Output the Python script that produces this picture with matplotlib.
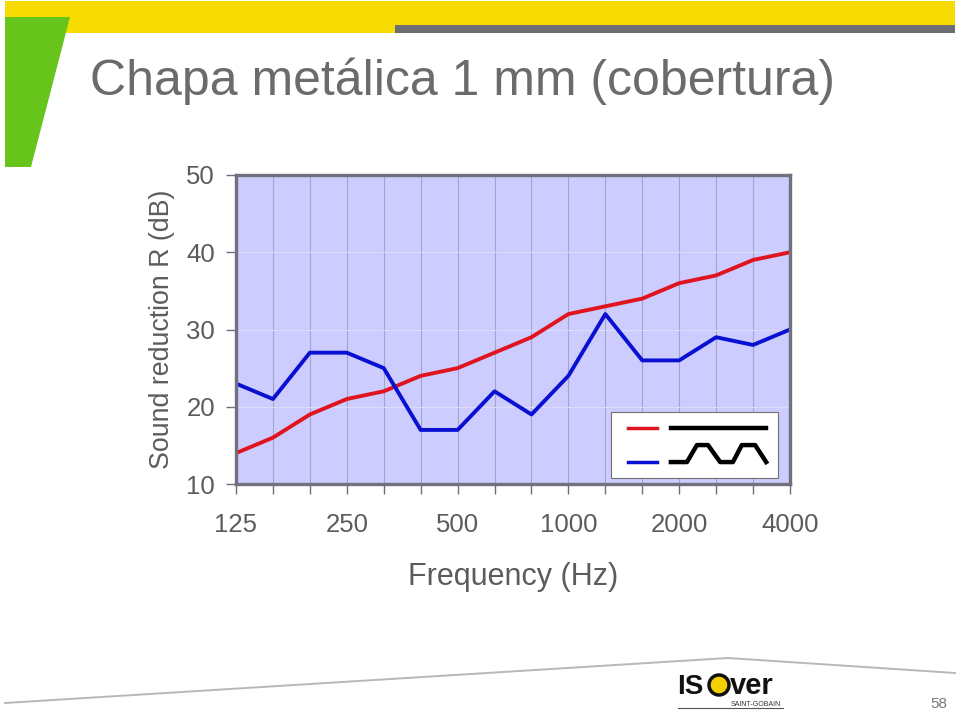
import matplotlib
matplotlib.use("Agg")
import matplotlib.pyplot as plt
from matplotlib.patches import Polygon, Circle, Rectangle
from matplotlib.lines import Line2D

# ---- data ----
frequencies = ["125", "160", "200", "250", "315", "400", "500", "630", "800",
               "1000", "1250", "1600", "2000", "2500", "3150", "4000"]
labelled_freqs = ["125", "250", "500", "1000", "2000", "4000"]
red_values = [14, 16, 19, 21, 22, 24, 25, 27, 29, 32, 33, 34, 36, 37, 39, 40]
blue_values = [23, 21, 27, 27, 25, 17, 17, 22, 19, 24, 32, 26, 26, 29, 28, 30]
y_ticks = [10, 20, 30, 40, 50]

title = "Chapa metálica 1 mm (cobertura)"
xlabel = "Frequency (Hz)"
ylabel = "Sound reduction R (dB)"

plt.rcParams['font.family'] = ['Liberation Sans', 'DejaVu Sans']

W, H = 960, 711
fig = plt.figure(figsize=(W / 100, H / 100), dpi=100)

# ---- slide background decorations (pixel coordinates) ----
bg = fig.add_axes([0, 0, 1, 1], zorder=0)
bg.set_xlim(0, W)
bg.set_ylim(H, 0)
bg.axis('off')
yellow = '#f6dc00'
bg.add_patch(Rectangle((5, 1), 950, 24, color=yellow, lw=0))
bg.add_patch(Rectangle((5, 24), 390, 9, color=yellow, lw=0))
bg.add_patch(Rectangle((395, 25), 560, 8, color='#6d6e71', lw=0))
bg.add_patch(Polygon([(5, 17), (70, 17), (31, 167), (5, 167)], closed=True,
                     color='#66c41a', lw=0))
bg.text(90, 95, title, fontsize=36, color='#6b6b6d', ha='left', va='baseline')
bg.plot([5, 728, 955], [703, 658, 673], color='#b8b8b8', lw=1.4)

# ISOVER logo
bg.text(677, 694, "IS", fontsize=20, fontweight='bold', color='#111111',
        ha='left', va='baseline')
bg.add_patch(Circle((719, 685), 10, facecolor='#f5d000', edgecolor='#111111', lw=2.5))
bg.text(730, 694, "ver", fontsize=21, fontweight='bold', color='#111111',
        ha='left', va='baseline')
bg.text(781, 706, "SAINT-GOBAIN", fontsize=5, color='#333333', ha='right',
        va='baseline')
bg.plot([678, 783], [708, 708], color='#555555', lw=0.8)
bg.text(947, 708, "58", fontsize=11, color='#777777', ha='right', va='baseline')

# ---- chart ----
L, R, T, B = 236, 790, 175, 484
ax = fig.add_axes([L / W, 1 - B / H, (R - L) / W, (B - T) / H], zorder=2)
x = list(range(len(frequencies)))
ax.set_facecolor('#ccccff')
ax.set_xlim(0, len(frequencies) - 1)
ax.set_ylim(10, 50)

for xi in x[1:-1]:
    ax.axvline(xi, color='#a4a4c8', lw=0.8, zorder=1)
for yv in y_ticks[1:-1]:
    ax.axhline(yv, color='#dcdcf6', lw=0.8, zorder=1)

ax.plot(x, red_values, color='#e0141e', lw=2.8, zorder=3, solid_joinstyle='round')
ax.plot(x, blue_values, color='#0a10d2', lw=2.8, zorder=3, solid_joinstyle='round')

ax.set_xticks(x)
ax.set_xticklabels([f if f in labelled_freqs else "" for f in frequencies])
ax.set_yticks(y_ticks)
ax.tick_params(axis='both', direction='out', length=7, width=1.0, colors='#6e6e80',
               labelcolor='#5c5c5c', labelsize=18.5)
ax.tick_params(axis='x', pad=14)
ax.tick_params(axis='y', pad=8)
for s in ax.spines.values():
    s.set_color('#70707e')
    s.set_linewidth(2.4)
    s.set_zorder(5)

ax.set_xlabel(xlabel, fontsize=22, color='#5c5c5c', labelpad=18)
ax.set_ylabel(ylabel, fontsize=19.3, color='#5c5c5c', labelpad=8)

# legend box (axes fraction)
ax.add_patch(Rectangle((0.677, 0.019), 0.301, 0.214, transform=ax.transAxes,
                       facecolor='white', edgecolor='#707070', lw=0.8, zorder=6))
ax.add_line(Line2D([0.708, 0.760], [0.181, 0.181], transform=ax.transAxes,
                   color='#e0141e', lw=2.5, zorder=7))
ax.add_line(Line2D([0.785, 0.957], [0.181, 0.181], transform=ax.transAxes,
                   color='black', lw=3.2, zorder=7))
ax.add_line(Line2D([0.708, 0.760], [0.071, 0.071], transform=ax.transAxes,
                   color='#0a10d2', lw=2.5, zorder=7))
px = [0.785, 0.814, 0.832, 0.852, 0.874, 0.897, 0.913, 0.937, 0.957]
py = [0.071, 0.071, 0.126, 0.126, 0.071, 0.071, 0.126, 0.126, 0.071]
ax.add_line(Line2D(px, py, transform=ax.transAxes, color='black', lw=3.2,
                   zorder=7, solid_joinstyle='round'))

fig.savefig("out.png", dpi=100)
